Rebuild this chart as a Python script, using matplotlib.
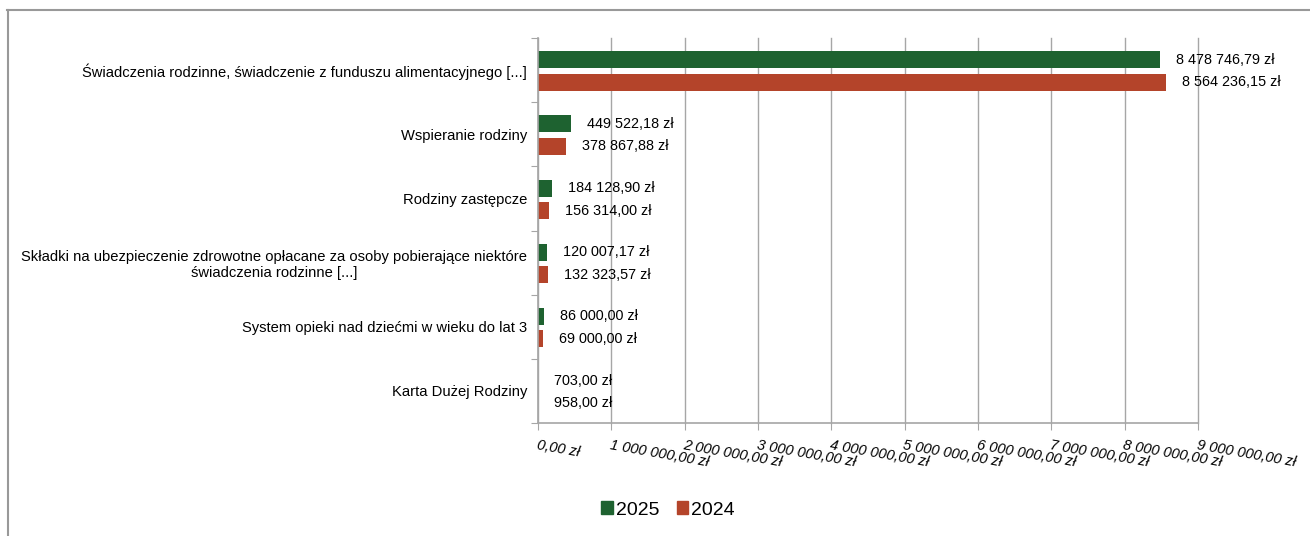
import matplotlib.pyplot as plt
from matplotlib.lines import Line2D
from matplotlib.patches import Patch
import numpy as np

plt.rcParams['font.family'] = ['Liberation Sans', 'DejaVu Sans']

kategorie = [
    "Świadczenia rodzinne, świadczenie z funduszu alimentacyjnego [...]",
    "Wspieranie rodziny",
    "Rodziny zastępcze",
    "Składki na ubezpieczenie zdrowotne opłacane za osoby pobierające niektóre\nświadczenia rodzinne [...]",
    "System opieki nad dziećmi w wieku do lat 3",
    "Karta Dużej Rodziny",
]
wartosci_2025 = [8478746.79, 449522.18, 184128.90, 120007.17, 86000.00, 703.00]
wartosci_2024 = [8564236.15, 378867.88, 156314.00, 132323.57, 69000.00, 958.00]
os_x = [0, 1000000, 2000000, 3000000, 4000000, 5000000, 6000000, 7000000, 8000000, 9000000]

zielony = '#1e6230'
czerwony = '#b4442a'
szary = '#a6a6a6'


def zl(v):
    s = f"{v:,.2f}".replace(",", " ").replace(".", ",")
    return s + " zł"


fig = plt.figure(figsize=(13.1, 5.36), dpi=100)
ax = fig.add_axes([538 / 1310, 1 - 423 / 536, 660 / 1310, 385 / 536])

y = np.arange(len(kategorie))
h = 0.265
b1 = ax.barh(y - 0.16, wartosci_2025, height=h, color=zielony, label='2025')
b2 = ax.barh(y + 0.19, wartosci_2024, height=h, color=czerwony, label='2024')

for bars, vals in ((b1, wartosci_2025), (b2, wartosci_2024)):
    for r, v in zip(bars, vals):
        ax.annotate(zl(v), (v, r.get_y() + r.get_height() / 2),
                    xytext=(16, 0), textcoords='offset pixels',
                    va='center', ha='left', fontsize=10.4)

ax.set_ylim(len(kategorie) - 0.5, -0.5)
ax.set_xlim(0, 9000000)
ax.set_yticks(np.arange(len(kategorie) + 1) - 0.5)
ax.set_yticklabels([])
ax.set_yticks(y, minor=True)
ax.set_yticklabels(kategorie, minor=True, fontsize=10.6, multialignment='center')
ax.tick_params(axis='y', which='minor', length=0, pad=8)
ax.tick_params(axis='y', which='major', length=5, color=szary)

ax.set_xticks(os_x)
ax.set_xticklabels([zl(v) for v in os_x], fontsize=10.5, style='italic',
                   rotation=-10, ha='left', va='top', rotation_mode='anchor')
ax.tick_params(axis='x', length=5, color=szary, pad=6)

ax.grid(axis='x', color=szary, linewidth=1)
for gl in ax.get_xgridlines():
    gl.set_clip_on(False)
ax.set_axisbelow(True)
for s in ('top', 'right'):
    ax.spines[s].set_visible(False)
for s in ('left', 'bottom'):
    ax.spines[s].set_color(szary)
    ax.spines[s].set_linewidth(1.2)

fig.legend(handles=[Patch(color=zielony, label='2025'), Patch(color=czerwony, label='2024')],
           loc='center', bbox_to_anchor=(668 / 1310, 1 - 510 / 536), ncol=2,
           frameon=False, fontsize=14, handlelength=0.6, handleheight=0.6,
           handletextpad=0.15, columnspacing=0.9)

# ramka wokół wykresu
fig.add_artist(Line2D([7 / 1310, 1], [1 - 10 / 536, 1 - 10 / 536], color='#999999', linewidth=1.5))
fig.add_artist(Line2D([7.5 / 1310, 7.5 / 1310], [0, 1 - 10 / 536], color='#999999', linewidth=1.5))

fig.savefig('out.png', dpi=100)
